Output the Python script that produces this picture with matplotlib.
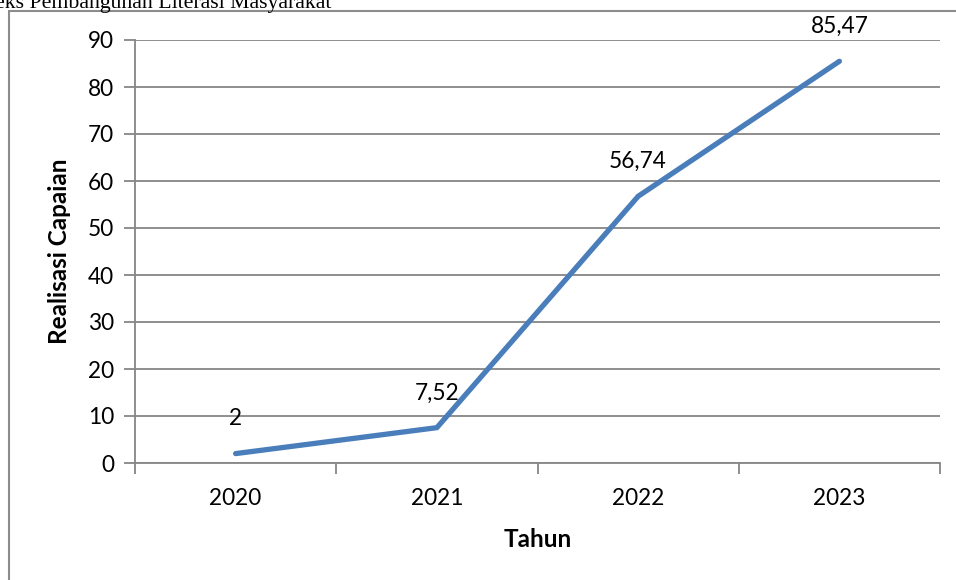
import matplotlib
matplotlib.use("Agg")
import matplotlib.pyplot as plt
from matplotlib.patches import Rectangle

years = ["2020", "2021", "2022", "2023"]
values = [2, 7.52, 56.74, 85.47]
labels = ["2", "7,52", "56,74", "85,47"]

W, H = 956, 580
fig = plt.figure(figsize=(W / 100, H / 100), dpi=100)
fig.patch.set_facecolor("white")

grid_col = "#868686"
font = "Lato"
fs = 16.3
fs_title = 17.5

# outer chart frame
fig.patches.append(Rectangle((9 / W, -0.05), 1.2, 1 - 11 / H + 0.05,
                             transform=fig.transFigure, fill=False,
                             edgecolor="#8c8c8c", linewidth=1.5, zorder=0))

# title (partly outside the canvas)
fig.text(-34 / W, 1 - 8 / H, "Indeks Pembangunan Literasi Masyarakat",
         family="Liberation Serif", fontsize=15.7, ha="left", va="baseline")

ax = fig.add_axes([135 / W, 1 - 463 / H, (940 - 135) / W, (463 - 40) / H])
x = list(range(len(years)))
ax.plot(x, values, color="#4A7EBB", linewidth=3.8, solid_capstyle="round",
        solid_joinstyle="round", zorder=3)

for xi, v, lab in zip(x, values, labels):
    ax.annotate(lab, (xi, v), xytext=(0, 25), textcoords="offset points",
                ha="center", va="center", fontsize=fs, family=font, zorder=4)

ax.set_xlim(-0.5, len(years) - 0.5)
ax.set_ylim(0, 90)
ax.set_yticks(range(0, 91, 10))
ax.yaxis.grid(True, color=grid_col, linewidth=1.3)
ax.set_axisbelow(True)

ax.set_xticks([i - 0.5 for i in range(len(years) + 1)])
ax.set_xticklabels([])
ax.set_xticks(x, minor=True)
ax.set_xticklabels(years, minor=True)
ax.tick_params(axis="x", which="major", direction="out", length=8,
               color=grid_col, width=1.3)
ax.tick_params(axis="x", which="minor", length=0, pad=18, labelsize=fs)
ax.tick_params(axis="y", direction="out", length=8, color=grid_col,
               width=1.3, labelsize=fs, pad=7)
for lab in ax.get_xticklabels(minor=True) + ax.get_yticklabels():
    lab.set_family(font)

for s in ["top", "right"]:
    ax.spines[s].set_visible(False)
for s in ["left", "bottom"]:
    ax.spines[s].set_color(grid_col)
    ax.spines[s].set_linewidth(1.3)

ax.set_xlabel("Tahun", family=font, fontsize=fs_title, fontweight="bold",
              labelpad=14)
ax.set_ylabel("Realisasi Capaian", family=font, fontsize=fs_title,
              fontweight="bold", labelpad=12)

fig.savefig("out.png", dpi=100)
